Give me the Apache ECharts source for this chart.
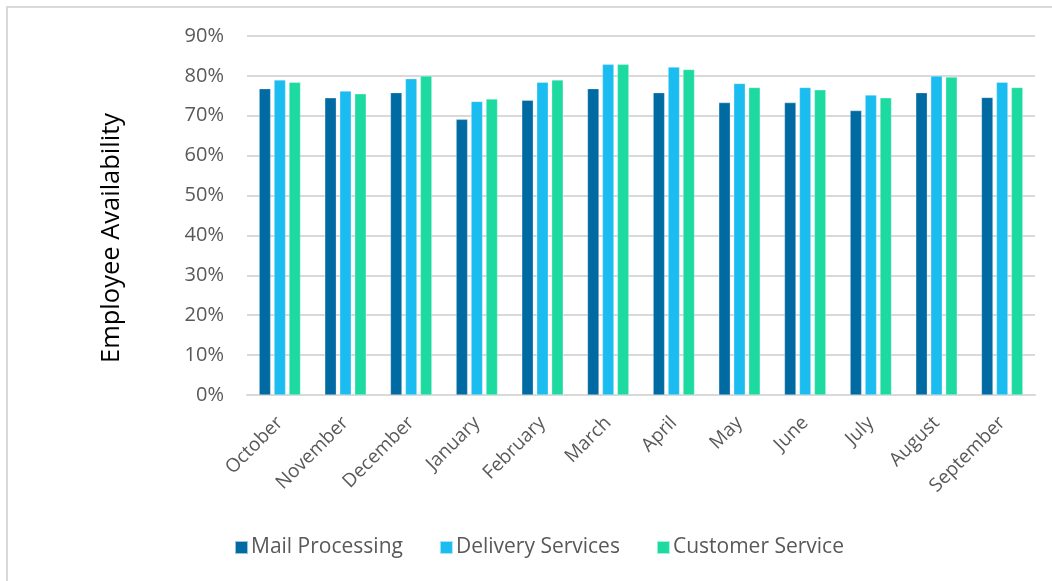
<!DOCTYPE html>
<html><head><meta charset="utf-8">
<script src="https://cdn.jsdelivr.net/npm/echarts@6/dist/echarts.min.js"></script>
<style>html,body{margin:0;padding:0;background:#fff}#c{width:1052px;height:581px}</style>
</head><body><div id="c"></div>
<script>
const categories = ['October','November','December','January','February','March','April','May','June','July','August','September'];
const mailProcessing = [76.8,74.5,75.8,69.1,73.9,76.8,75.8,73.3,73.3,71.3,75.8,74.6];
const deliveryServices = [79.0,76.2,79.3,73.6,78.4,82.9,82.2,78.1,77.1,75.2,80.0,78.4];
const customerService = [78.4,75.5,80.0,74.2,79.0,82.9,81.6,77.1,76.5,74.5,79.7,77.1];
const seriesNames = ['Mail Processing','Delivery Services','Customer Service'];
const colors = ['#006AA2','#1BBCF0','#1DDAA0'];
const font = "'Open Sans', 'Noto Sans', sans-serif";

const chart = echarts.init(document.getElementById('c'));
const mk = (name, data, color) => ({
  name, type:'bar', data, barWidth: 11.5, barGap: '30%',
  itemStyle:{color, borderColor:'rgba(255,255,255,0.6)', borderWidth:0.5},
  emphasis:{disabled:true}
});
chart.setOption({
  animation:false,
  backgroundColor:'#fff',
  graphic:[
    {type:'rect', shape:{x:7, y:7, width:1100, height:600}, style:{fill:'none', stroke:'#d9d9d9', lineWidth:2}, silent:true},
    {type:'text', x:112, y:238, rotation:Math.PI/2, style:{text:'Employee Availability', fontFamily:font, fontSize:25.5, fill:'#000', align:'center', verticalAlign:'middle'}, silent:true}
  ],
  grid:{left:247, right:17, top:36, bottom:186, containLabel:false},
  legend:{
    data:seriesNames, top:532, left:229, itemWidth:13, itemHeight:13, itemGap:36,
    icon:'rect',
    textStyle:{fontFamily:font, fontSize:21, color:'#595959', padding:[0,0,0,-2]}
  },
  xAxis:{
    type:'category', data:categories,
    axisLine:{lineStyle:{color:'#d9d9d9', width:2}},
    axisTick:{show:false},
    axisLabel:{rotate:45, margin:25, fontFamily:font, fontSize:19, color:'#595959', interval:0}
  },
  yAxis:{
    type:'value', min:0, max:90, interval:10,
    axisLine:{show:false}, axisTick:{show:false},
    splitLine:{lineStyle:{color:'#d9d9d9', width:2}},
    axisLabel:{formatter:'{value}%', margin:23, fontFamily:font, fontSize:20, color:'#595959'}
  },
  series:[mk(seriesNames[0], mailProcessing, colors[0]), mk(seriesNames[1], deliveryServices, colors[1]), mk(seriesNames[2], customerService, colors[2])]
});
</script></body></html>
